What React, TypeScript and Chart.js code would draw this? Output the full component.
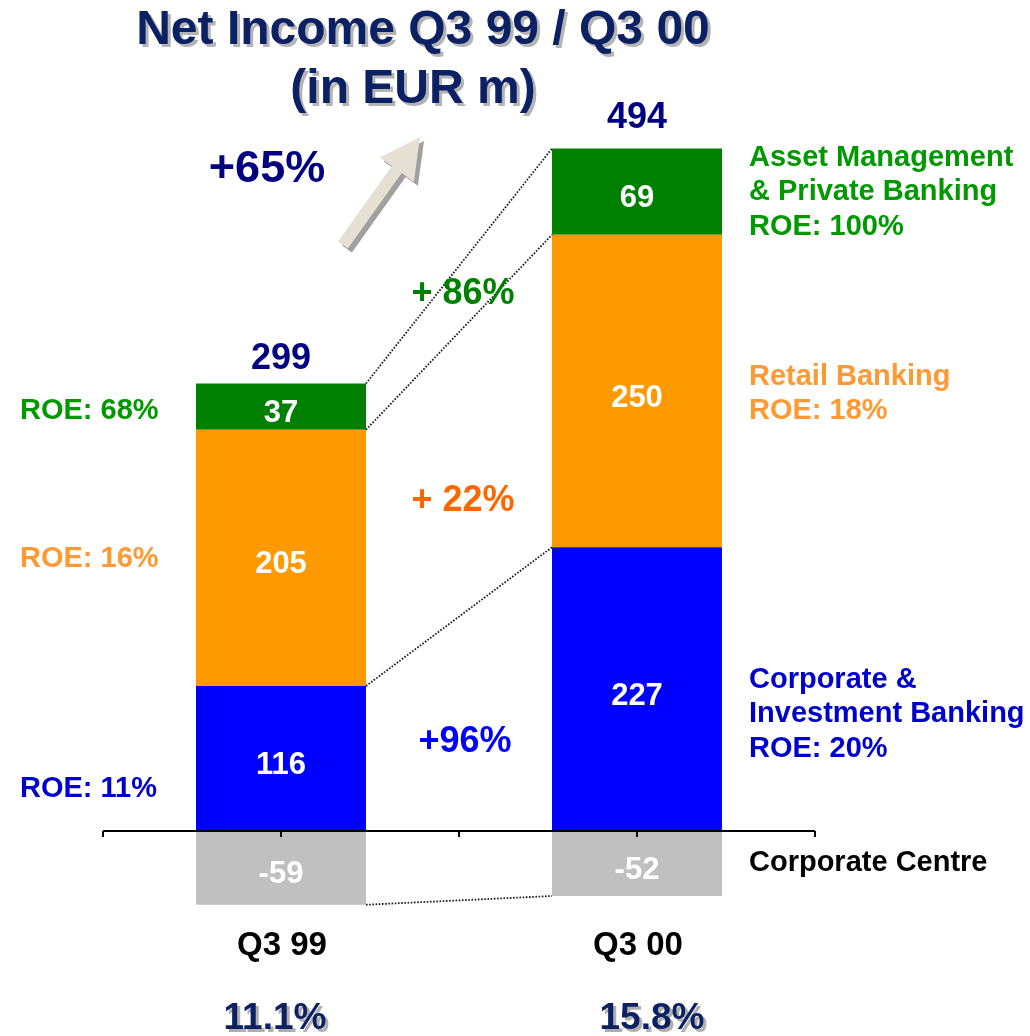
import React, { useEffect, useRef } from "react";
import { Chart, registerables } from "chart.js";

Chart.register(...registerables);

const categories = ["Q3 99", "Q3 00"];
const corporateInvestment = [116, 227];
const retailBanking = [205, 250];
const assetManagement = [37, 69];
const corporateCentre = [-59, -52];
const totals = [299, 494];
const groupRoe = ["11.1%", "15.8%"];
const leftRoe = ["ROE: 68%", "ROE: 16%", "ROE: 11%"];
const growthLabels = ["+ 86%", "+ 22%", "+96%"];
const totalGrowth = "+65%";

const FONT = '"Liberation Sans", Arial, Helvetica, sans-serif';

function txt(
  ctx: CanvasRenderingContext2D,
  s: string,
  x: number,
  y: number,
  size: number,
  color: string,
  align: CanvasTextAlign = "center",
  shadow?: string
) {
  ctx.save();
  ctx.font = `bold ${size}px ${FONT}`;
  ctx.textAlign = align;
  ctx.textBaseline = "middle";
  if (shadow) {
    ctx.fillStyle = shadow;
    ctx.fillText(s, x + 3, y + 3);
  }
  ctx.fillStyle = color;
  ctx.fillText(s, x, y);
  ctx.restore();
}

const overlay = {
  id: "overlay",
  afterDraw(chart: any) {
    const ctx: CanvasRenderingContext2D = chart.ctx;
    const area = chart.chartArea;
    const xs = chart.scales.x;
    const ys = chart.scales.y;
    const y0 = ys.getPixelForValue(0);

    // axis line with ticks
    ctx.save();
    ctx.strokeStyle = "#000";
    ctx.lineWidth = 2;
    ctx.beginPath();
    ctx.moveTo(area.left, y0);
    ctx.lineTo(area.right, y0);
    const c0 = xs.getPixelForValue(0);
    const c1 = xs.getPixelForValue(1);
    const half = (c1 - c0) / 2;
    const tickXs = [c0 - half, c0, c0 + half, c1, c1 + half];
    tickXs.forEach((tx) => {
      ctx.moveTo(tx, y0);
      ctx.lineTo(tx, y0 + 6);
    });
    ctx.stroke();
    ctx.restore();

    // dotted connectors
    const metas = [0, 1, 2, 3].map((i) => chart.getDatasetMeta(i).data);
    const [cib, ret, am, cc] = metas;
    const right = (el: any) => el.x + el.width / 2;
    const left = (el: any) => el.x - el.width / 2;
    const pairs = [
      [am[0].y, am[1].y],
      [ret[0].y, ret[1].y],
      [cib[0].y, cib[1].y],
      [cc[0].y, cc[1].y],
    ];
    ctx.save();
    ctx.strokeStyle = "#1a1a1a";
    ctx.lineWidth = 1.8;
    ctx.setLineDash([1.6, 1.6]);
    pairs.forEach(([a, b]) => {
      ctx.beginPath();
      ctx.moveTo(right(cib[0]), a);
      ctx.lineTo(left(cib[1]), b);
      ctx.stroke();
    });
    ctx.restore();

    // segment labels
    [cib, ret, am, cc].forEach((els: any[], di: number) => {
      const vals = [corporateInvestment, retailBanking, assetManagement, corporateCentre][di];
      els.forEach((el: any, j: number) => {
        txt(ctx, String(vals[j]), el.x, (el.y + el.base) / 2 + 7, 31, "#ffffff");
      });
    });

    // totals
    const totalOffsets = [24, 30];
    totals.forEach((t, j) => {
      txt(ctx, String(t), xs.getPixelForValue(j), am[j].y - totalOffsets[j], 36, "#000080");
    });

    // category labels and group ROE
    categories.forEach((c, j) => {
      const cx = xs.getPixelForValue(j);
      txt(ctx, c, cx + 1, 946, 33, "#000000");
    });
    txt(ctx, groupRoe[0], 275, 1019, 37, "#0c2163", "center", "#b0b0b0");
    txt(ctx, groupRoe[1], 652, 1019, 37, "#0c2163", "center", "#b0b0b0");

    // title
    txt(ctx, "Net Income Q3 99 / Q3 00", 423, 31, 48, "#0c2163", "center", "#b4b4b4");
    txt(ctx, "(in EUR m)", 413, 90, 48, "#0c2163", "center", "#b4b4b4");

    // total growth
    txt(ctx, totalGrowth, 267, 170, 45, "#000080");

    // arrow
    const tail = { x: 343, y: 245 };
    const tip = { x: 420, y: 137 };
    const dx = tip.x - tail.x;
    const dy = tip.y - tail.y;
    const len = Math.hypot(dx, dy);
    const ux = dx / len;
    const uy = dy / len;
    const nx = -uy;
    const ny = ux;
    const headLen = 40;
    const bx = tip.x - ux * headLen;
    const by = tip.y - uy * headLen;
    const sw = 6;
    const hw = 21;
    const pts = [
      [tail.x + nx * sw, tail.y + ny * sw],
      [bx + nx * sw, by + ny * sw],
      [bx + nx * hw, by + ny * hw],
      [tip.x, tip.y],
      [bx - nx * hw, by - ny * hw],
      [bx - nx * sw, by - ny * sw],
      [tail.x - nx * sw, tail.y - ny * sw],
    ];
    const drawPoly = (ox: number, oy: number, fill: string) => {
      ctx.beginPath();
      pts.forEach(([px, py], i) => {
        if (i === 0) ctx.moveTo(px + ox, py + oy);
        else ctx.lineTo(px + ox, py + oy);
      });
      ctx.closePath();
      ctx.fillStyle = fill;
      ctx.fill();
    };
    ctx.save();
    drawPoly(4, 4, "#a0a0a0");
    drawPoly(0, 0, "#e6dfd3");
    ctx.restore();

    // left ROE labels
    txt(ctx, leftRoe[0], 20, 411, 29, "#009900", "left");
    txt(ctx, leftRoe[1], 20, 559, 29, "#ff9933", "left");
    txt(ctx, leftRoe[2], 20, 789, 29, "#0000cc", "left");

    // growth labels
    txt(ctx, growthLabels[0], 463, 294, 36, "#008000");
    txt(ctx, growthLabels[1], 463, 501, 36, "#ff6600");
    txt(ctx, growthLabels[2], 465, 742, 36, "#0000ff");

    // right segment labels
    const rx = 749;
    txt(ctx, "Asset Management", rx, 158, 29, "#009900", "left");
    txt(ctx, "& Private Banking", rx, 192, 29, "#009900", "left");
    txt(ctx, "ROE: 100%", rx, 227, 29, "#009900", "left");
    txt(ctx, "Retail Banking", rx, 377, 29, "#ff9933", "left");
    txt(ctx, "ROE: 18%", rx, 411, 29, "#ff9933", "left");
    txt(ctx, "Corporate &", rx, 680, 29, "#0000cc", "left");
    txt(ctx, "Investment Banking", rx, 714, 29, "#0000cc", "left");
    txt(ctx, "ROE: 20%", rx, 749, 29, "#0000cc", "left");
    txt(ctx, "Corporate Centre", rx, 863, 29, "#000000", "left");
  },
};

export default function App() {
  const ref = useRef<HTMLCanvasElement>(null);

  useEffect(() => {
    if (!ref.current) return;
    const chart = new Chart(ref.current, {
      type: "bar",
      data: {
        labels: categories,
        datasets: [
          { label: "Corporate & Investment Banking", data: corporateInvestment, backgroundColor: "#0000ff" },
          { label: "Retail Banking", data: retailBanking, backgroundColor: "#ff9900" },
          { label: "Asset Management & Private Banking", data: assetManagement, backgroundColor: "#008000" },
          { label: "Corporate Centre", data: corporateCentre, backgroundColor: "#c0c0c0" },
        ],
      },
      options: {
        responsive: false,
        animation: false,
        layout: { padding: { left: 103, right: 215, top: 131, bottom: 105 } },
        datasets: { bar: { barPercentage: 0.4775, categoryPercentage: 1 } },
        plugins: { legend: { display: false }, tooltip: { enabled: false } },
        scales: {
          x: { display: false, stacked: true, offset: true },
          y: { display: false, stacked: true, min: -80, max: 560 },
        },
      },
      plugins: [overlay],
    });
    return () => chart.destroy();
  }, []);

  return (
    <div style={{ position: "fixed", left: 0, top: 0, width: 1030, height: 1036, background: "#fff" }}>
      <canvas ref={ref} width={1030} height={1036} style={{ display: "block" }} />
    </div>
  );
}
